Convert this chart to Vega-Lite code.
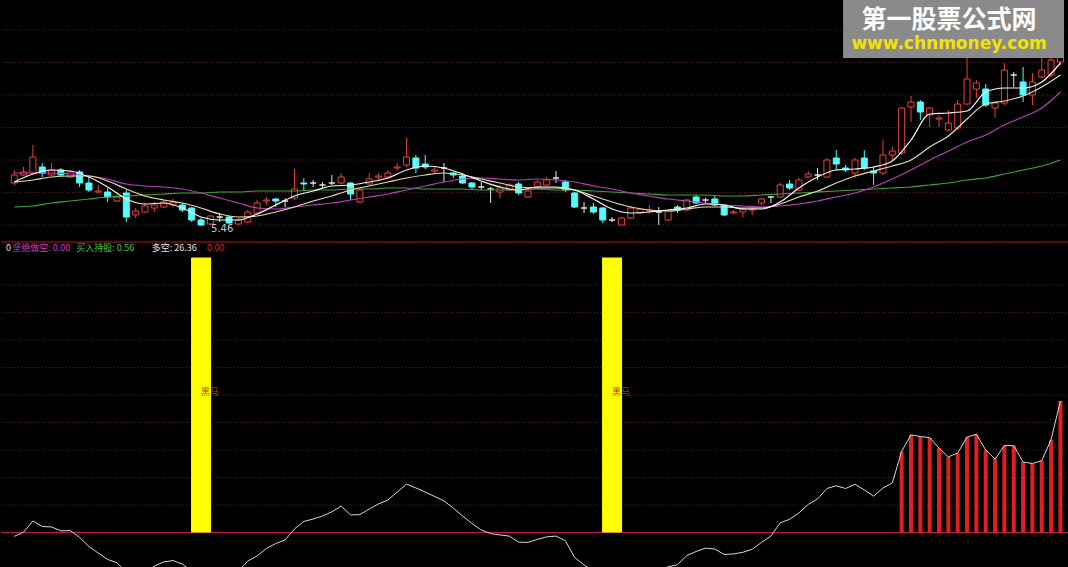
{
"$schema": "https://vega.github.io/schema/vega-lite/v6.json",
"background": "#000000",
"padding": 0,
"spacing": 0,
"config": {"view": {"stroke": null}, "axis": {"disable": true}, "concat": {"spacing": 0}},
"datasets": {
"k": [
{"i":0,"o":5.89,"c":5.97,"h":6.02,"l":5.87,"dk":-1.4,"m5":5.90,"m10":5.90,"m20":5.99,"m60":5.65},
{"i":1,"o":5.97,"c":6.00,"h":6.05,"l":5.96,"dk":0.1},
{"i":2,"o":5.99,"c":6.15,"h":6.27,"l":5.97,"dk":4.2,"m5":5.98,"m10":5.92,"m20":5.99,"m60":5.66},
{"i":3,"o":6.05,"c":5.99,"h":6.09,"l":5.95,"dk":2.2},
{"i":4,"o":5.97,"c":6.02,"h":6.09,"l":5.96,"dk":2.0,"m5":6.02,"m10":5.95,"m20":5.99,"m60":5.69},
{"i":5,"o":6.02,"c":5.97,"h":6.04,"l":5.96,"dk":0.6},
{"i":6,"o":5.95,"c":6.00,"h":6.02,"l":5.94,"dk":0.7,"m5":6.01,"m10":5.96,"m20":5.98,"m60":5.71},
{"i":7,"o":6.00,"c":5.89,"h":6.02,"l":5.85,"dk":-1.8},
{"i":8,"o":5.89,"c":5.82,"h":5.95,"l":5.80,"dk":-5.1,"m5":5.95,"m10":5.96,"m20":5.96,"m60":5.73},
{"i":9,"o":5.80,"c":5.81,"h":5.87,"l":5.79,"dk":-7.5},
{"i":10,"o":5.80,"c":5.75,"h":5.84,"l":5.70,"dk":-9.8,"m5":5.85,"m10":5.91,"m20":5.93,"m60":5.75},
{"i":11,"o":5.71,"c":5.75,"h":5.77,"l":5.70,"dk":-11.0},
{"i":12,"o":5.79,"c":5.55,"h":5.82,"l":5.50,"dk":-14.4,"m5":5.73,"m10":5.83,"m20":5.88,"m60":5.76},
{"i":13,"o":5.57,"c":5.61,"h":5.64,"l":5.54,"dk":-16.0},
{"i":14,"o":5.60,"c":5.66,"h":5.69,"l":5.59,"dk":-14.7,"m5":5.68,"m10":5.76,"m20":5.86,"m60":5.77},
{"i":15,"o":5.64,"c":5.67,"h":5.70,"l":5.60,"dk":-12.2},
{"i":16,"o":5.65,"c":5.70,"h":5.72,"l":5.64,"dk":-10.7,"m5":5.69,"m10":5.72,"m20":5.85,"m60":5.78},
{"i":17,"o":5.67,"c":5.70,"h":5.73,"l":5.65,"dk":-10.2},
{"i":18,"o":5.67,"c":5.62,"h":5.69,"l":5.60,"dk":-11.5,"m5":5.64,"m10":5.69,"m20":5.83,"m60":5.79},
{"i":19,"o":5.64,"c":5.52,"h":5.65,"l":5.50,"dk":-14.0},
{"i":20,"o":5.52,"c":5.47,"h":5.54,"l":5.46,"dk":-16.0,"m5":5.55,"m10":5.64,"m20":5.79,"m60":5.79},
{"i":21,"o":5.48,"c":5.56,"h":5.57,"l":5.47,"dk":-17.0},
{"i":22,"o":5.55,"c":5.55,"h":5.59,"l":5.50,"dk":-17.0,"m5":5.52,"m10":5.58,"m20":5.74,"m60":5.80},
{"i":23,"o":5.55,"c":5.49,"h":5.56,"l":5.48,"dk":-16.0},
{"i":24,"o":5.48,"c":5.52,"h":5.54,"l":5.47,"dk":-14.0,"m5":5.52,"m10":5.55,"m20":5.69,"m60":5.80},
{"i":25,"o":5.50,"c":5.60,"h":5.62,"l":5.49,"dk":-10.4},
{"i":26,"o":5.59,"c":5.69,"h":5.72,"l":5.57,"dk":-8.5,"m5":5.58,"m10":5.56,"m20":5.64,"m60":5.81},
{"i":27,"o":5.71,"c":5.72,"h":5.75,"l":5.67,"dk":-5.8},
{"i":28,"o":5.73,"c":5.71,"h":5.74,"l":5.65,"dk":-4.0,"m5":5.67,"m10":5.60,"m20":5.63,"m60":5.81},
{"i":29,"o":5.71,"c":5.71,"h":5.74,"l":5.65,"dk":-2.7},
{"i":30,"o":5.74,"c":5.83,"h":6.03,"l":5.72,"dk":1.3,"m5":5.76,"m10":5.65,"m20":5.65,"m60":5.81},
{"i":31,"o":5.89,"c":5.88,"h":5.94,"l":5.82,"dk":4.0},
{"i":32,"o":5.89,"c":5.89,"h":5.92,"l":5.85,"dk":4.9,"m5":5.81,"m10":5.71,"m20":5.67,"m60":5.82},
{"i":33,"o":5.87,"c":5.87,"h":5.90,"l":5.84,"dk":6.0},
{"i":34,"o":5.89,"c":5.89,"h":5.97,"l":5.87,"dk":7.5,"m5":5.86,"m10":5.76,"m20":5.69,"m60":5.82},
{"i":35,"o":5.89,"c":5.95,"h":5.99,"l":5.88,"dk":9.6},
{"i":36,"o":5.89,"c":5.78,"h":5.90,"l":5.72,"dk":6.4,"m5":5.87,"m10":5.82,"m20":5.72,"m60":5.83},
{"i":37,"o":5.70,"c":5.82,"h":5.84,"l":5.69,"dk":6.5},
{"i":38,"o":5.88,"c":5.93,"h":5.99,"l":5.87,"dk":8.5,"m5":5.90,"m10":5.86,"m20":5.75,"m60":5.83},
{"i":39,"o":5.95,"c":5.96,"h":5.99,"l":5.92,"dk":10.4},
{"i":40,"o":5.95,"c":5.99,"h":6.02,"l":5.93,"dk":11.8,"m5":5.94,"m10":5.90,"m20":5.78,"m60":5.84},
{"i":41,"o":6.04,"c":6.05,"h":6.09,"l":6.01,"dk":14.7},
{"i":42,"o":6.07,"c":6.15,"h":6.34,"l":6.05,"dk":17.6,"m5":6.02,"m10":5.94,"m20":5.82,"m60":5.84},
{"i":43,"o":6.14,"c":6.04,"h":6.17,"l":5.99,"dk":16.2},
{"i":44,"o":6.08,"c":6.05,"h":6.17,"l":6.03,"dk":14.7,"m5":6.06,"m10":5.97,"m20":5.86,"m60":5.83},
{"i":45,"o":6.01,"c":6.02,"h":6.05,"l":5.98,"dk":13.1},
{"i":46,"o":6.04,"c":6.04,"h":6.09,"l":5.90,"dk":11.5,"m5":6.04,"m10":5.99,"m20":5.90,"m60":5.83},
{"i":47,"o":5.99,"c":5.97,"h":6.00,"l":5.94,"dk":8.9},
{"i":48,"o":5.96,"c":5.89,"h":5.99,"l":5.88,"dk":6.0,"m5":5.98,"m10":5.97,"m20":5.93,"m60":5.83},
{"i":49,"o":5.89,"c":5.85,"h":5.90,"l":5.82,"dk":3.3},
{"i":50,"o":5.85,"c":5.85,"h":5.90,"l":5.82,"dk":0.9,"m5":5.91,"m10":5.93,"m20":5.94,"m60":5.82},
{"i":51,"o":5.83,"c":5.83,"h":5.85,"l":5.69,"dk":-0.4},
{"i":52,"o":5.80,"c":5.84,"h":5.87,"l":5.74,"dk":-0.9,"m5":5.85,"m10":5.89,"m20":5.93,"m60":5.82},
{"i":53,"o":5.82,"c":5.87,"h":5.89,"l":5.81,"dk":-1.3},
{"i":54,"o":5.88,"c":5.79,"h":5.90,"l":5.77,"dk":-3.5,"m5":5.82,"m10":5.85,"m20":5.92,"m60":5.82},
{"i":55,"o":5.75,"c":5.81,"h":5.84,"l":5.74,"dk":-3.6},
{"i":56,"o":5.85,"c":5.90,"h":5.92,"l":5.84,"dk":-2.5,"m5":5.85,"m10":5.84,"m20":5.93,"m60":5.83},
{"i":57,"o":5.87,"c":5.92,"h":5.95,"l":5.86,"dk":-1.6},
{"i":58,"o":5.94,"c":5.94,"h":6.01,"l":5.89,"dk":-1.3,"m5":5.85,"m10":5.84,"m20":5.92,"m60":5.82},
{"i":59,"o":5.90,"c":5.82,"h":5.92,"l":5.80,"dk":-3.0},
{"i":60,"o":5.79,"c":5.65,"h":5.80,"l":5.64,"dk":-9.1,"m5":5.82,"m10":5.82,"m20":5.90,"m60":5.82},
{"i":61,"o":5.64,"c":5.64,"h":5.70,"l":5.59,"dk":-11.8},
{"i":62,"o":5.65,"c":5.60,"h":5.69,"l":5.58,"dk":-14.0,"m5":5.73,"m10":5.76,"m20":5.86,"m60":5.81},
{"i":63,"o":5.64,"c":5.52,"h":5.65,"l":5.49,"dk":-15.5},
{"i":64,"o":5.52,"c":5.52,"h":5.55,"l":5.50,"dk":-16.0,"m5":5.63,"m10":5.70,"m20":5.83,"m60":5.80},
{"i":65,"o":5.47,"c":5.54,"h":5.55,"l":5.47,"dk":-16.0},
{"i":66,"o":5.54,"c":5.64,"h":5.66,"l":5.53,"dk":-15.0,"m5":5.59,"m10":5.65,"m20":5.79,"m60":5.79},
{"i":67,"o":5.59,"c":5.63,"h":5.64,"l":5.58,"dk":-14.0},
{"i":68,"o":5.61,"c":5.62,"h":5.67,"l":5.59,"dk":-13.3,"m5":5.60,"m10":5.62,"m20":5.76,"m60":5.78},
{"i":69,"o":5.60,"c":5.60,"h":5.65,"l":5.47,"dk":-13.5},
{"i":70,"o":5.52,"c":5.61,"h":5.62,"l":5.51,"dk":-12.5,"m5":5.62,"m10":5.61,"m20":5.73,"m60":5.77},
{"i":71,"o":5.65,"c":5.62,"h":5.67,"l":5.59,"dk":-11.7},
{"i":72,"o":5.62,"c":5.72,"h":5.73,"l":5.61,"dk":-8.4,"m5":5.64,"m10":5.63,"m20":5.71,"m60":5.77},
{"i":73,"o":5.75,"c":5.69,"h":5.77,"l":5.68,"dk":-6.9},
{"i":74,"o":5.72,"c":5.72,"h":5.74,"l":5.69,"dk":-5.7,"m5":5.68,"m10":5.65,"m20":5.69,"m60":5.77},
{"i":75,"o":5.73,"c":5.67,"h":5.77,"l":5.66,"dk":-6.0},
{"i":76,"o":5.67,"c":5.57,"h":5.68,"l":5.56,"dk":-8.0,"m5":5.67,"m10":5.65,"m20":5.67,"m60":5.76},
{"i":77,"o":5.59,"c":5.60,"h":5.62,"l":5.58,"dk":-7.8},
{"i":78,"o":5.60,"c":5.63,"h":5.64,"l":5.55,"dk":-7.2,"m5":5.63,"m10":5.64,"m20":5.66,"m60":5.76},
{"i":79,"o":5.62,"c":5.63,"h":5.64,"l":5.57,"dk":-6.1},
{"i":80,"o":5.69,"c":5.73,"h":5.74,"l":5.67,"dk":-3.6,"m5":5.63,"m10":5.64,"m20":5.65,"m60":5.77},
{"i":81,"o":5.75,"c":5.75,"h":5.76,"l":5.69,"dk":-1.3},
{"i":82,"o":5.75,"c":5.87,"h":5.89,"l":5.74,"dk":3.5,"m5":5.70,"m10":5.68,"m20":5.66,"m60":5.78},
{"i":83,"o":5.88,"c":5.84,"h":5.92,"l":5.82,"dk":4.8},
{"i":84,"o":5.82,"c":5.92,"h":5.94,"l":5.81,"dk":7.1,"m5":5.84,"m10":5.75,"m20":5.68,"m60":5.79},
{"i":85,"o":5.95,"c":5.98,"h":6.01,"l":5.94,"dk":10.2},
{"i":86,"o":5.97,"c":5.97,"h":6.04,"l":5.92,"dk":12.2,"m5":5.95,"m10":5.81,"m20":5.71,"m60":5.80},
{"i":87,"o":5.95,"c":6.12,"h":6.14,"l":5.94,"dk":16.0},
{"i":88,"o":6.14,"c":6.08,"h":6.22,"l":6.02,"dk":17.0,"m5":6.02,"m10":5.89,"m20":5.75,"m60":5.81},
{"i":89,"o":6.04,"c":6.02,"h":6.07,"l":6.00,"dk":16.0},
{"i":90,"o":5.99,"c":6.12,"h":6.14,"l":5.94,"dk":17.5,"m5":6.03,"m10":5.96,"m20":5.79,"m60":5.82},
{"i":91,"o":6.14,"c":6.04,"h":6.22,"l":6.02,"dk":15.5},
{"i":92,"o":6.01,"c":5.99,"h":6.05,"l":5.87,"dk":13.2,"m5":6.05,"m10":6.01,"m20":5.85,"m60":5.83},
{"i":93,"o":5.99,"c":6.17,"h":6.32,"l":5.97,"dk":16.2},
{"i":94,"o":6.17,"c":6.21,"h":6.25,"l":6.12,"dk":18.0,"m5":6.11,"m10":6.06,"m20":5.93,"m60":5.84},
{"i":95,"o":6.19,"c":6.64,"h":6.65,"l":6.17,"dk":29.5},
{"i":96,"o":6.65,"c":6.70,"h":6.76,"l":6.50,"dk":35.5,"m5":6.32,"m10":6.12,"m20":6.02,"m60":5.85},
{"i":97,"o":6.70,"c":6.60,"h":6.72,"l":6.52,"dk":34.9},
{"i":98,"o":6.57,"c":6.64,"h":6.65,"l":6.45,"dk":34.5,"m5":6.58,"m10":6.25,"m20":6.12,"m60":5.87},
{"i":99,"o":6.53,"c":6.54,"h":6.57,"l":6.45,"dk":30.7},
{"i":100,"o":6.42,"c":6.49,"h":6.62,"l":6.41,"dk":27.5,"m5":6.59,"m10":6.36,"m20":6.21,"m60":5.89},
{"i":101,"o":6.44,"c":6.68,"h":6.72,"l":6.42,"dk":28.9},
{"i":102,"o":6.68,"c":6.93,"h":7.14,"l":6.67,"dk":34.7,"m5":6.61,"m10":6.53,"m20":6.30,"m60":5.92},
{"i":103,"o":6.83,"c":6.89,"h":6.92,"l":6.74,"dk":35.7},
{"i":104,"o":6.83,"c":6.67,"h":6.88,"l":6.65,"dk":30.0,"m5":6.80,"m10":6.68,"m20":6.37,"m60":5.94},
{"i":105,"o":6.64,"c":6.69,"h":6.71,"l":6.54,"dk":26.7},
{"i":106,"o":6.69,"c":7.02,"h":7.09,"l":6.67,"dk":31.6,"m5":6.84,"m10":6.71,"m20":6.47,"m60":5.98},
{"i":107,"o":6.97,"c":6.97,"h":7.00,"l":6.85,"dk":31.6},
{"i":108,"o":6.90,"c":6.77,"h":7.05,"l":6.70,"dk":25.6,"m5":6.84,"m10":6.76,"m20":6.55,"m60":6.02},
{"i":109,"o":6.77,"c":6.90,"h":6.99,"l":6.67,"dk":25.1},
{"i":110,"o":6.95,"c":7.02,"h":7.14,"l":6.94,"dk":26.1,"m5":6.90,"m10":6.85,"m20":6.64,"m60":6.06},
{"i":111,"o":6.97,"c":7.12,"h":7.32,"l":6.95,"dk":33.8},
{"i":112,"o":7.10,"c":7.27,"h":7.42,"l":7.07,"dk":47.8,"m5":7.09,"m10":6.97,"m20":6.80,"m60":6.12}
],
"sig": [{"i":20,"v":100,"label":"黑马"},{"i":64,"v":100,"label":"黑马"}],
"gridTop": [{"p":7.42},{"p":7.095},{"p":6.77},{"p":6.445},{"p":6.12},{"p":5.795},{"p":5.47}],
"gridBot": [{"g":10},{"g":20},{"g":30},{"g":40},{"g":50},{"g":60},{"g":70},{"g":80},{"g":90}],
"one": [{}]
},
"vconcat": [
{
"width": 1068, "height": 242,
"layer": [
{"data": {"name": "gridTop"}, "mark": {"type": "rule", "color": "#5a2020", "strokeDash": [1, 2], "strokeWidth": 1},
 "encoding": {"y": {"field": "p", "type": "quantitative", "scale": {"domain": [5.30, 7.72], "nice": false, "zero": false}, "axis": null}}},
{"data": {"name": "k"}, "mark": {"type": "rule", "strokeWidth": 1, "clip": true},
 "encoding": {
  "x": {"field": "i", "type": "quantitative", "scale": {"domain": [-0.88, 112.38], "nice": false, "zero": false}, "axis": null},
  "y": {"field": "l", "type": "quantitative", "scale": {"domain": [5.30, 7.72], "nice": false, "zero": false}, "axis": null},
  "y2": {"field": "h"},
  "color": {"condition": [{"test": "datum.c > datum.o", "value": "#e8403c"}, {"test": "datum.c < datum.o", "value": "#54fcfc"}], "value": "#e6e6e6"}}},
{"data": {"name": "k"}, "mark": {"type": "bar", "size": 6, "strokeWidth": 1, "orient": "vertical", "clip": true},
 "encoding": {
  "x": {"field": "i", "type": "quantitative", "scale": {"domain": [-0.88, 112.38], "nice": false, "zero": false}, "axis": null},
  "y": {"field": "o", "type": "quantitative", "scale": {"domain": [5.30, 7.72], "nice": false, "zero": false}, "axis": null},
  "y2": {"field": "c"},
  "fill": {"condition": {"test": "datum.c < datum.o", "value": "#54fcfc"}, "value": "#000000"},
  "stroke": {"condition": [{"test": "datum.c > datum.o", "value": "#e8403c"}, {"test": "datum.c < datum.o", "value": "#54fcfc"}], "value": "#e6e6e6"}}},
{"data": {"name": "k"}, "transform": [{"filter": "isValid(datum.m60)"}], "mark": {"type": "line", "color": "#3fa33f", "strokeWidth": 1.2, "interpolate": "monotone", "clip": true},
 "encoding": {"x": {"field": "i", "type": "quantitative", "axis": null}, "y": {"field": "m60", "type": "quantitative", "axis": null}}},
{"data": {"name": "k"}, "transform": [{"filter": "isValid(datum.m20)"}], "mark": {"type": "line", "color": "#b840b8", "strokeWidth": 1.2, "interpolate": "monotone", "clip": true},
 "encoding": {"x": {"field": "i", "type": "quantitative", "axis": null}, "y": {"field": "m20", "type": "quantitative", "axis": null}}},
{"data": {"name": "k"}, "transform": [{"filter": "isValid(datum.m10)"}], "mark": {"type": "line", "color": "#e4dcae", "strokeWidth": 1.2, "interpolate": "monotone", "clip": true},
 "encoding": {"x": {"field": "i", "type": "quantitative", "axis": null}, "y": {"field": "m10", "type": "quantitative", "axis": null}}},
{"data": {"name": "k"}, "transform": [{"filter": "isValid(datum.m5)"}], "mark": {"type": "line", "color": "#f4f4f4", "strokeWidth": 1.2, "interpolate": "monotone", "clip": true},
 "encoding": {"x": {"field": "i", "type": "quantitative", "axis": null}, "y": {"field": "m5", "type": "quantitative", "axis": null}}},
{"data": {"name": "k"}, "transform": [{"filter": {"field": "i", "equal": 20}}], "mark": {"type": "text", "color": "#c8c8c8", "fontSize": 10, "font": "DejaVu Sans", "align": "left", "baseline": "middle", "dx": 10, "dy": 3},
 "encoding": {"x": {"field": "i", "type": "quantitative", "axis": null}, "y": {"field": "l", "type": "quantitative", "axis": null}, "text": {"field": "l", "type": "quantitative", "format": ".2f"}}},
{"data": {"name": "one"}, "mark": {"type": "rule", "color": "#b01818", "strokeWidth": 1}, "encoding": {"y": {"datum": 5.30, "type": "quantitative"}}},
{"data": {"name": "one"}, "mark": {"type": "rect", "color": "#8a8a8a"},
 "encoding": {"x": {"datum": 88.73, "type": "quantitative"}, "x2": {"datum": 112.38}, "y": {"datum": 7.72, "type": "quantitative"}, "y2": {"datum": 7.14}}},
{"data": {"name": "one"}, "mark": {"type": "text", "text": "第一股票公式网", "color": "#ffffff", "fontSize": 25, "fontWeight": "bold", "font": "Noto Sans CJK SC", "align": "center", "baseline": "middle"},
 "encoding": {"x": {"datum": 100.07, "type": "quantitative"}, "y": {"datum": 7.52, "type": "quantitative"}}},
{"data": {"name": "one"}, "mark": {"type": "text", "text": "www.chnmoney.com", "color": "#f2e400", "fontSize": 17, "fontWeight": "bold", "font": "DejaVu Sans", "align": "center", "baseline": "middle"},
 "encoding": {"x": {"datum": 100.07, "type": "quantitative"}, "y": {"datum": 7.28, "type": "quantitative"}}}
]
},
{
"width": 1068, "height": 325,
"layer": [
{"data": {"name": "gridBot"}, "mark": {"type": "rule", "color": "#5a2020", "strokeDash": [1, 2], "strokeWidth": 1},
 "encoding": {"y": {"field": "g", "type": "quantitative", "scale": {"domain": [-12.91, 105.27], "nice": false, "zero": false}, "axis": null}}},
{"data": {"name": "one"}, "mark": {"type": "rule", "color": "#c01c48", "strokeWidth": 1}, "encoding": {"y": {"datum": 0, "type": "quantitative"}}},
{"data": {"name": "sig"}, "mark": {"type": "bar", "color": "#ffff00", "size": 20, "orient": "vertical"},
 "encoding": {
  "x": {"field": "i", "type": "quantitative", "scale": {"domain": [-0.88, 112.38], "nice": false, "zero": false}, "axis": null},
  "y": {"field": "v", "type": "quantitative", "scale": {"domain": [-12.91, 105.27], "nice": false, "zero": false}, "axis": null},
  "y2": {"datum": 0}}},
{"data": {"name": "sig"}, "mark": {"type": "text", "color": "#b8301c", "fontSize": 9, "font": "Noto Sans CJK SC", "align": "left", "baseline": "middle"},
 "encoding": {"x": {"field": "i", "type": "quantitative", "axis": null}, "y": {"datum": 51, "type": "quantitative"}, "text": {"field": "label"}}},
{"data": {"name": "k"}, "transform": [{"filter": "datum.dk > 20"}], "mark": {"type": "bar", "color": "#e02020", "size": 4, "orient": "vertical"},
 "encoding": {"x": {"field": "i", "type": "quantitative", "axis": null}, "y": {"field": "dk", "type": "quantitative", "axis": null}, "y2": {"datum": 0}}},
{"data": {"name": "k"}, "mark": {"type": "line", "color": "#d8d8d8", "strokeWidth": 1, "clip": true},
 "encoding": {"x": {"field": "i", "type": "quantitative", "axis": null}, "y": {"field": "dk", "type": "quantitative", "axis": null}}},
{"data": {"name": "one"}, "mark": {"type": "text", "text": "0", "color": "#e0e0e0", "fontSize": 9, "font": "Noto Sans CJK SC", "align": "left", "baseline": "middle"},
 "encoding": {"x": {"datum": -0.88, "type": "quantitative"}, "y": {"datum": 103.5, "type": "quantitative"}}},
{"data": {"name": "one"}, "mark": {"type": "text", "text": "坚绝做空: 0.00", "color": "#c040c8", "fontSize": 9, "font": "Noto Sans CJK SC", "align": "left", "baseline": "middle"},
 "encoding": {"x": {"datum": -0.2, "type": "quantitative"}, "y": {"datum": 103.5, "type": "quantitative"}}},
{"data": {"name": "one"}, "mark": {"type": "text", "text": "买入持股: 0.56", "color": "#44c044", "fontSize": 9, "font": "Noto Sans CJK SC", "align": "left", "baseline": "middle"},
 "encoding": {"x": {"datum": 6.65, "type": "quantitative"}, "y": {"datum": 103.5, "type": "quantitative"}}},
{"data": {"name": "one"}, "mark": {"type": "text", "text": "多空: 26.36", "color": "#e6e6e6", "fontSize": 9, "font": "Noto Sans CJK SC", "align": "left", "baseline": "middle"},
 "encoding": {"x": {"datum": 14.71, "type": "quantitative"}, "y": {"datum": 103.5, "type": "quantitative"}}},
{"data": {"name": "one"}, "mark": {"type": "text", "text": "0.00", "color": "#c83030", "fontSize": 9, "font": "Noto Sans CJK SC", "align": "left", "baseline": "middle"},
 "encoding": {"x": {"datum": 20.65, "type": "quantitative"}, "y": {"datum": 103.5, "type": "quantitative"}}}
]
}
]
}
